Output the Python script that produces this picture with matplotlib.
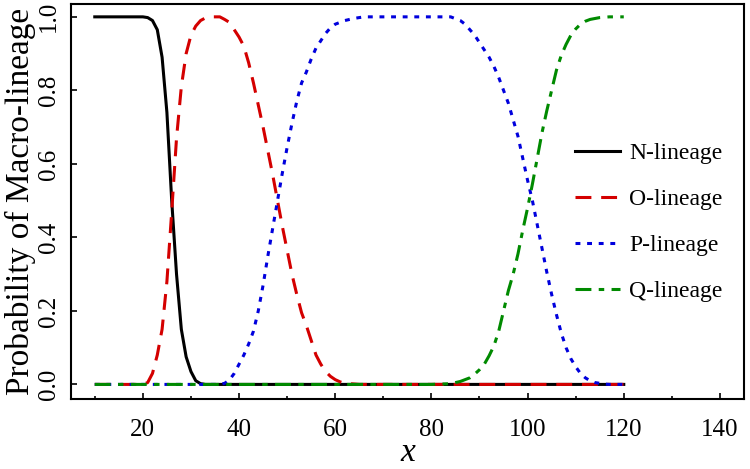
import matplotlib
matplotlib.use("Agg")
import matplotlib.pyplot as plt
from matplotlib.ticker import MultipleLocator

plt.rcParams["font.family"] = ["Liberation Serif", "DejaVu Serif"]

# N-lineage (solid black)
n_x = [10, 20, 21, 22, 23, 24, 25, 26, 27, 28, 29, 30, 31, 32, 33, 120]
n_y = [1.0, 1.0, 0.998, 0.99, 0.965, 0.89, 0.74, 0.50, 0.30, 0.15, 0.075,
       0.035, 0.01, 0.002, 0.0, 0.0]

# O-lineage (dashed red)
o_x = [10, 20, 21, 22, 23, 24, 25, 26, 27, 28, 29, 30, 31, 32, 33, 34, 36,
       37, 38, 39, 40, 41, 42, 43, 44, 45, 46, 47, 48, 49, 50, 51, 52, 53,
       54, 55, 56, 57, 58, 59, 60, 61, 62, 64, 65, 120]
o_y = [0.0, 0.0, 0.005, 0.03, 0.08, 0.15, 0.28, 0.47, 0.67, 0.81, 0.90,
       0.95, 0.975, 0.99, 0.997, 1.0, 1.0, 0.993, 0.985, 0.965, 0.945,
       0.92, 0.875, 0.82, 0.76, 0.70, 0.635, 0.57, 0.50, 0.43, 0.365, 0.30,
       0.245, 0.195, 0.16, 0.12, 0.08, 0.055, 0.035, 0.022, 0.013, 0.007,
       0.003, 0.001, 0.0, 0.0]

# P-lineage (dotted blue)
p_x = [10, 36, 37, 38, 39, 40, 41, 42, 43, 44, 45, 46, 47, 48, 49, 50, 51,
       52, 53, 54, 55, 56, 57, 58, 59, 60, 62, 64, 66, 84, 86, 87, 88, 89,
       90, 91, 92, 93, 94, 95, 96, 97, 98, 99, 100, 101, 102, 103, 104, 105,
       106, 107, 108, 109, 110, 111, 112, 113, 114, 116, 117, 120]
p_y = [0.0, 0.0, 0.003, 0.012, 0.03, 0.055, 0.08, 0.11, 0.145, 0.20, 0.27,
       0.35, 0.425, 0.50, 0.575, 0.645, 0.71, 0.77, 0.82, 0.85, 0.885,
       0.915, 0.935, 0.955, 0.97, 0.98, 0.99, 0.996, 1.0, 1.0, 0.99, 0.98,
       0.965, 0.95, 0.93, 0.91, 0.89, 0.865, 0.835, 0.80, 0.765, 0.72,
       0.675, 0.615, 0.555, 0.50, 0.435, 0.37, 0.305, 0.245, 0.19, 0.14,
       0.10, 0.07, 0.048, 0.03, 0.018, 0.01, 0.005, 0.001, 0.0, 0.0]

# Q-lineage (dash-dot green)
q_x = [10, 80, 84, 86, 88, 89, 90, 91, 92, 93, 94, 95, 96, 97, 98, 99, 100,
       101, 102, 103, 104, 105, 106, 107, 108, 109, 110, 111, 112, 113, 115,
       117, 120]
q_y = [0.0, 0.0, 0.002, 0.008, 0.018, 0.028, 0.04, 0.055, 0.078, 0.105,
       0.145, 0.20, 0.255, 0.30, 0.355, 0.42, 0.48, 0.545, 0.615, 0.685,
       0.745, 0.80, 0.855, 0.895, 0.925, 0.95, 0.967, 0.98, 0.988, 0.993,
       0.998, 1.0, 1.0]

fig = plt.figure(figsize=(7.5, 4.69), dpi=100)
ax = fig.add_axes([0.0943, 0.149, 0.8977, 0.8425])

lw = 2.2
ax.plot(n_x, n_y, color="black", lw=lw, label="N-lineage")
ax.plot(o_x, o_y, color="#d40000", lw=lw, dashes=(5.2, 3.2), label="O-lineage")
ax.plot(p_x, p_y, color="#0000dd", lw=lw, dashes=(1.6, 2.2), label="P-lineage")
ax.plot(q_x, q_y, color="#008a00", lw=lw, dashes=(5.2, 2.4, 1.8, 2.4),
        label="Q-lineage")

ax.set_xlim(5, 145)
ax.set_ylim(-0.04, 1.035)
ax.xaxis.set_major_locator(MultipleLocator(20))
ax.xaxis.set_minor_locator(MultipleLocator(10))
ax.yaxis.set_major_locator(MultipleLocator(0.2))
ax.yaxis.set_major_formatter(plt.FuncFormatter(lambda v, p: f"{v:.1f}"))

ax.tick_params(axis="both", which="major", direction="in", length=4,
               width=1.2, labelsize=18)
ax.tick_params(axis="x", which="major", pad=14)
ax.tick_params(axis="x", which="minor", direction="in", length=2.4, width=1.2)
ax.tick_params(axis="y", which="major", pad=8)
for lab in ax.get_yticklabels():
    lab.set_rotation(90)
    lab.set_va("center")
for sp in ax.spines.values():
    sp.set_linewidth(1.5)

ax.set_xlabel("x", fontsize=24, fontstyle="italic", labelpad=-2)
ax.set_ylabel("Probability of Macro-lineage", fontsize=24)
ax.yaxis.set_label_coords(-0.052, 0.5)

ax.legend(loc="center left", bbox_to_anchor=(0.731, 0.447), frameon=False,
          fontsize=17, borderpad=0, handlelength=1.9, handletextpad=0.42,
          labelspacing=1.03)

plt.savefig("out.png", dpi=100)
